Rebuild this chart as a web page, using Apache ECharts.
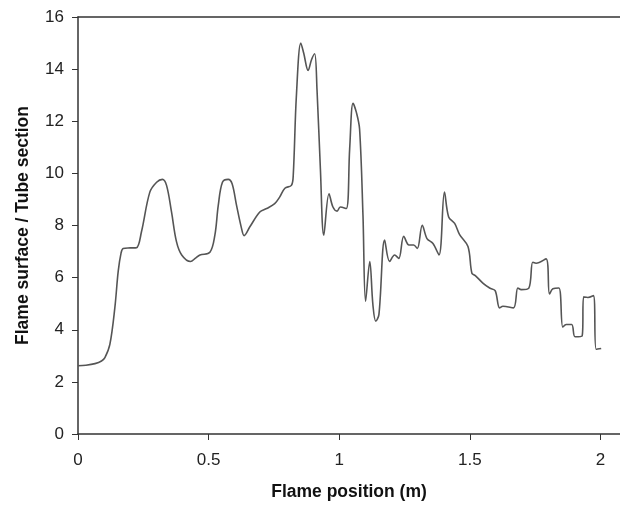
<!DOCTYPE html>
<html>
<head>
<meta charset="utf-8">
<script src="https://cdn.jsdelivr.net/npm/echarts@6/dist/echarts.min.js"></script>
<style>
  html, body { margin: 0; padding: 0; background: #fff; }
  #chart { width: 620px; height: 506px; }
</style>
</head>
<body>
<div id="chart"></div>
<script>
// flame position along the tube (m)
const position = [
  0, 0.03, 0.065, 0.09, 0.103, 0.122, 0.141, 0.154, 0.165, 0.173,
  0.2, 0.224, 0.243, 0.275, 0.301, 0.323, 0.339, 0.358, 0.377, 0.397,
  0.431, 0.45, 0.467, 0.505, 0.524, 0.537, 0.553, 0.575, 0.59, 0.607,
  0.626, 0.636, 0.658, 0.696, 0.722, 0.753, 0.772, 0.792, 0.817, 0.824,
  0.836, 0.853, 0.864, 0.881, 0.894, 0.906, 0.915, 0.928, 0.941, 0.961,
  0.976, 0.992, 1.004, 1.027, 1.04, 1.053, 1.066, 1.078, 1.091, 1.101,
  1.117, 1.129, 1.14, 1.152, 1.174, 1.193, 1.212, 1.228, 1.247, 1.267,
  1.285, 1.299, 1.318, 1.336, 1.359, 1.382, 1.403, 1.419, 1.442, 1.461,
  1.493, 1.508, 1.521, 1.55, 1.576, 1.597, 1.614, 1.627, 1.667, 1.684,
  1.697, 1.726, 1.741, 1.754, 1.792, 1.805, 1.818, 1.841, 1.856, 1.869,
  1.89, 1.903, 1.93, 1.936, 1.952, 1.973, 1.984, 2.003
]
// flame surface / tube section ratio
const surfaceRatio = [
  2.62, 2.64, 2.7, 2.8, 2.93, 3.44, 4.84, 6.25, 6.95, 7.12,
  7.14, 7.15, 7.76, 9.28, 9.66, 9.77, 9.54, 8.52, 7.38, 6.87,
  6.62, 6.75, 6.87, 6.97, 7.63, 8.77, 9.66, 9.77, 9.6, 8.77,
  7.89, 7.61, 7.95, 8.52, 8.65, 8.84, 9.09, 9.43, 9.54, 9.92,
  12.96, 15.0, 14.62, 13.95, 14.36, 14.59, 13.22, 10.17, 7.63, 9.22,
  8.71, 8.55, 8.71, 8.65, 10.93, 12.69, 12.33, 11.7, 8.39, 5.09,
  6.62, 4.96, 4.33, 4.58, 7.44, 6.62, 6.87, 6.74, 7.59, 7.25,
  7.25, 7.12, 8.01, 7.5, 7.31, 6.87, 9.28, 8.33, 8.08, 7.65,
  7.19, 6.17, 6.08, 5.79, 5.6, 5.5, 4.84, 4.9, 4.84, 5.6,
  5.54, 5.6, 6.59, 6.55, 6.72, 5.37, 5.57, 5.6, 4.1, 4.2,
  4.2, 3.73, 3.76, 5.26, 5.24, 5.31, 3.25, 3.28
]

const chart = echarts.init(document.getElementById('chart'))
const data = position.map((x, i) => [x, surfaceRatio[i]])
const axisColor = '#333'
const font = 'Liberation Sans, Arial, sans-serif'

chart.setOption({
  backgroundColor: '#fff',
  animation: false,
  grid: { left: 78, right: 0, top: 17, bottom: 69 },
  xAxis: [{
    type: 'value',
    min: 0,
    max: 2.075,
    interval: 0.5,
    name: 'Flame position (m)',
    nameLocation: 'middle',
    nameGap: 49,
    nameTextStyle: { fontFamily: font, fontSize: 17.5, fontWeight: 'bold', color: '#111' },
    axisLine: { lineStyle: { color: axisColor, width: 1.5 } },
    axisTick: { show: true, length: 6, lineStyle: { color: axisColor } },
    axisLabel: { fontFamily: font, fontSize: 17, color: '#222', margin: 18, showMaxLabel: false },
    splitLine: { show: false }
  }, {
    type: 'value',
    position: 'top',
    min: 0,
    max: 2.075,
    axisLine: { show: true, onZero: false, lineStyle: { color: axisColor, width: 1.5 } },
    axisTick: { show: false },
    axisLabel: { show: false },
    splitLine: { show: false }
  }],
  yAxis: {
    type: 'value',
    min: 0,
    max: 16,
    interval: 2,
    name: 'Flame surface / Tube section',
    nameLocation: 'middle',
    nameGap: 46,
    nameTextStyle: { fontFamily: font, fontSize: 17.5, fontWeight: 'bold', color: '#111' },
    axisLine: { show: true, lineStyle: { color: axisColor, width: 1.5 } },
    axisTick: { show: true, length: 6, lineStyle: { color: axisColor } },
    axisLabel: { fontFamily: font, fontSize: 17, color: '#222', margin: 14 },
    splitLine: { show: false }
  },
  series: [{
    type: 'line',
    xAxisIndex: 0,
    data: data,
    showSymbol: false,
    smooth: 0.35,
    lineStyle: { color: '#555', width: 1.6 }
  }]
})
</script>
</body>
</html>
